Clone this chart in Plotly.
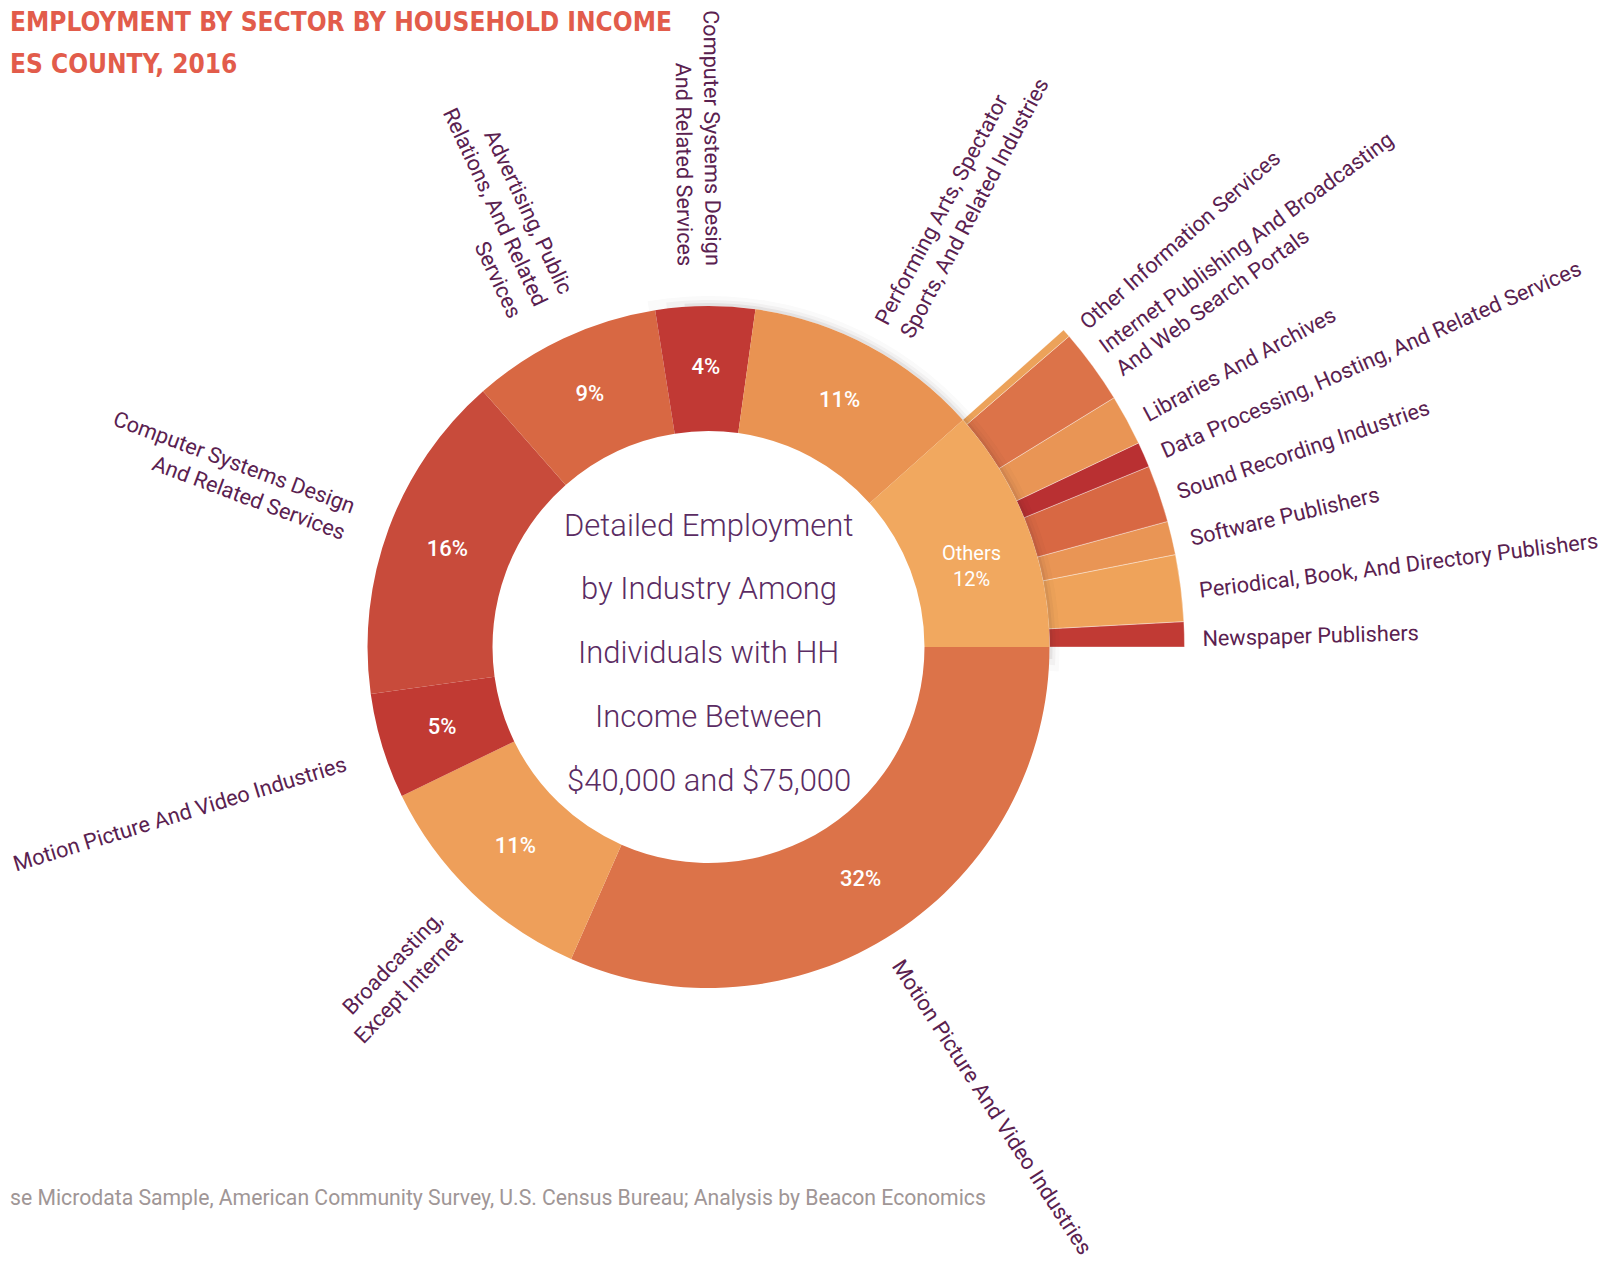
import math
import plotly.graph_objects as go

# ---------------- data ----------------
main_labels = [
    "Motion Picture And Video Industries",
    "Broadcasting,<br>Except Internet",
    "Motion Picture And Video Industries",
    "Computer Systems Design<br>And Related Services",
    "Advertising, Public<br>Relations, And Related<br>Services",
    "Computer Systems Design<br>And Related Services",
    "Performing Arts, Spectator<br>Sports, And Related Industries",
    "Others",
]
main_shares = [31.6, 11.2, 5.0, 15.7, 9.0, 4.7, 11.2, 11.6]
main_pct_text = ["32%", "11%", "5%", "16%", "9%", "4%", "11%", "12%"]
main_colors = ["#dc7349", "#ee9f5a", "#c13a33", "#c84b3b",
               "#d86843", "#c13934", "#e99352", "#f1a85f"]

# breakdown of "Others", listed from 3 o'clock upward
other_labels = [
    "Newspaper Publishers",
    "Periodical, Book, And Directory Publishers",
    "Software Publishers",
    "Sound Recording Industries",
    "Data Processing, Hosting, And Related Services",
    "Libraries And Archives",
    "Internet Publishing And Broadcasting<br>And Web Search Portals",
    "Other Information Services",
]
other_shares = [0.85, 2.26, 1.14, 1.94, 0.86, 1.72, 2.55, 0.28]
other_colors = ["#c13a34", "#efa35a", "#e99555", "#d86843",
                "#b93032", "#e99555", "#dc7349", "#eca25a"]

title_lines = ["EMPLOYMENT BY SECTOR BY HOUSEHOLD INCOME", "ES COUNTY, 2016"]
center_lines = ["Detailed Employment", "by Industry Among", "Individuals with HH",
                "Income Between", "$40,000 and $75,000"]
source_text = ("se Microdata Sample, American Community Survey, U.S. Census Bureau; "
               "Analysis by Beacon Economics")

# ---------------- geometry / style ----------------
PAGE_W, PAGE_H = 1610, 1262
OFF = 8                              # default page body margin
W, H = PAGE_W - OFF, PAGE_H - OFF    # figure size
CX, CY = 708.5 - OFF, 647.0 - OFF    # donut centre in figure pixels (from top-left)
RMAX = 600.0                         # radial axis range -> 1 unit = 1 px
R_IN, R_OUT, R_EXT = 216, 341, 476
R_MID = (R_IN + R_OUT) / 2
LAB_R_MAIN_RIGHT, LAB_R_MAIN_LEFT, LAB_R_OTHER = 367, 381, 494
DOWN_MAIN_RIGHT, DOWN_MAIN_LEFT, DOWN_OTHER = 12, 4, 3
LABEL_COLOR = "#5a2150"
LABEL_FONT = dict(family="Roboto, Open Sans, sans-serif", size=21.7, color=LABEL_COLOR)
PCT_FONT = dict(family="Roboto, sans-serif", size=22, color="white", weight=500)


def px_y(page_y):
    return 1 - (page_y - OFF) / H


xd = [(CX - RMAX) / W, (CX + RMAX) / W]
yd = [(H - CY - RMAX) / H, (H - CY + RMAX) / H]

# angles (bearing, clockwise from 12 o'clock); main ring starts at 3 o'clock
main_w, main_mid = [], []
a = 90.0
for s in main_shares:
    w = s * 3.6
    main_w.append(w)
    main_mid.append(a + w / 2)
    a += w

other_w, other_mid = [], []
a = 90.0
for s in other_shares:
    w = s * 3.6
    other_w.append(w)
    other_mid.append(a - w / 2)
    a -= w

fig = go.Figure()

# breakdown wedges of "Others"
fig.add_trace(go.Barpolar(
    theta=other_mid, width=other_w,
    base=[R_OUT] * len(other_shares), r=[R_EXT - R_OUT] * len(other_shares),
    marker=dict(color=other_colors, line=dict(color="rgba(255,255,255,0.6)", width=0.6)),
    text=other_labels, hoverinfo="text", showlegend=False,
))

# soft shadow of the donut (towards upper right)
shadow_layers = [(3, 0.07, -4, 92), (6, 0.045, -7, 93), (10, 0.025, -10, 94)]
for thick, alpha, t0, t1 in shadow_layers:
    fig.add_trace(go.Barpolar(
        theta=[(t0 + t1) / 2], width=[t1 - t0], base=[R_OUT], r=[thick],
        marker=dict(color=f"rgba(60,40,40,{alpha})", line=dict(width=0)),
        hoverinfo="skip", showlegend=False,
    ))

# main donut ring
fig.add_trace(go.Barpolar(
    theta=main_mid, width=main_w,
    base=[R_IN] * len(main_shares), r=[R_OUT - R_IN] * len(main_shares),
    marker=dict(color=main_colors, line=dict(width=0)),
    text=main_labels, hoverinfo="text", showlegend=False,
))

# percentage labels inside the ring
fig.add_trace(go.Scatterpolar(
    r=[R_MID] * 7, theta=main_mid[:7], mode="text",
    text=main_pct_text[:7], textfont=PCT_FONT,
    hoverinfo="skip", showlegend=False,
))

# invisible cartesian trace so the overlay axes (1 unit = 1 px) exist
fig.add_trace(go.Scatter(x=[0], y=[0], mode="markers",
                         marker=dict(opacity=0), hoverinfo="skip", showlegend=False))


def radial_label(text, bearing, r0, down):
    b = bearing % 360
    rad = math.radians(b)
    right = 0 <= b < 180
    ang = b - 90 if right else b - 270
    ang = (ang + 180) % 360 - 180
    ta = math.radians(ang)
    # perpendicular shift ("down" in the rotated text frame), y-up coords
    sx, sy = -math.sin(ta) * down, -math.cos(ta) * down
    x0, y0 = r0 * math.sin(rad) + sx, r0 * math.cos(rad) + sy
    x1, y1 = (r0 + 60) * math.sin(rad) + sx, (r0 + 60) * math.cos(rad) + sy
    return dict(
        type="line", xref="x", yref="y", x0=x0, y0=y0, x1=x1, y1=y1,
        line=dict(color="rgba(0,0,0,0)", width=0), layer="above",
        label=dict(text=text, textposition="start", textangle=ang,
                   xanchor="left" if right else "right", yanchor="middle",
                   padding=0, font=LABEL_FONT),
    )


shapes = []
for lab, b in zip(main_labels[:7], main_mid[:7]):
    if (b % 360) < 180:
        shapes.append(radial_label(lab, b, LAB_R_MAIN_RIGHT, DOWN_MAIN_RIGHT))
    else:
        shapes.append(radial_label(lab, b, LAB_R_MAIN_LEFT, DOWN_MAIN_LEFT))
for lab, b in zip(other_labels, other_mid):
    shapes.append(radial_label(lab, b, LAB_R_OTHER, DOWN_OTHER))

# small edge bar at top right (page x 1605-1610, y 10-41)
shapes.append(dict(type="rect", xref="x", yref="y",
                   x0=(PAGE_W - 5 - OFF) - CX, x1=(PAGE_W - OFF) - CX,
                   y0=CY - (41 - OFF), y1=CY - (10 - OFF),
                   fillcolor="#5f7380", line=dict(width=0), layer="above"))

annotations = []
for i, line in enumerate(center_lines):
    annotations.append(dict(
        x=0, y=122 - 63.8 * i, xref="x", yref="y", text=line, showarrow=False,
        xanchor="center", yanchor="middle",
        font=dict(family="Roboto, sans-serif", size=31, color="#5b2c63", weight=300),
    ))

# "Others" label: name and share inside its slice
ob = math.radians(main_mid[7] + 1.5)
ox, oy = R_MID * math.sin(ob), R_MID * math.cos(ob)
annotations.append(dict(
    x=ox, y=oy - 11, xref="x", yref="y",
    text=main_labels[7] + "<br>" + main_pct_text[7], showarrow=False,
    xanchor="center", yanchor="middle", align="center",
    font=dict(family="Roboto, sans-serif", size=20, color="white"),
))

for i, line in enumerate(title_lines):
    annotations.append(dict(
        x=0, y=px_y(22 + 41.5 * i), xref="paper", yref="paper", text=line,
        showarrow=False, xanchor="left", yanchor="middle",
        font=dict(family="Liberation Sans Narrow, DejaVu Sans Condensed, sans-serif",
                  size=26, color="#e25c4b", weight="bold"),
    ))

annotations.append(dict(
    x=0, y=px_y(1197), xref="paper", yref="paper", text=source_text,
    showarrow=False, xanchor="left", yanchor="middle",
    font=dict(family="Roboto, sans-serif", size=21.2, color="#a09696"),
))

fig.update_layout(
    width=W, height=H,
    margin=dict(l=0, r=0, t=0, b=0),
    paper_bgcolor="white", plot_bgcolor="rgba(0,0,0,0)",
    showlegend=False,
    polar=dict(
        domain=dict(x=xd, y=yd), bgcolor="rgba(0,0,0,0)", bargap=0,
        radialaxis=dict(range=[0, RMAX], visible=False, showgrid=False),
        angularaxis=dict(rotation=90, direction="clockwise", visible=False,
                         showgrid=False, showline=False, ticks=""),
    ),
    xaxis=dict(domain=[0, 1], range=[-CX, W - CX], visible=False, fixedrange=True),
    yaxis=dict(domain=[0, 1], range=[-(H - CY), CY], visible=False, fixedrange=True),
    shapes=shapes,
    annotations=annotations,
)

fig.write_html("out.html")
